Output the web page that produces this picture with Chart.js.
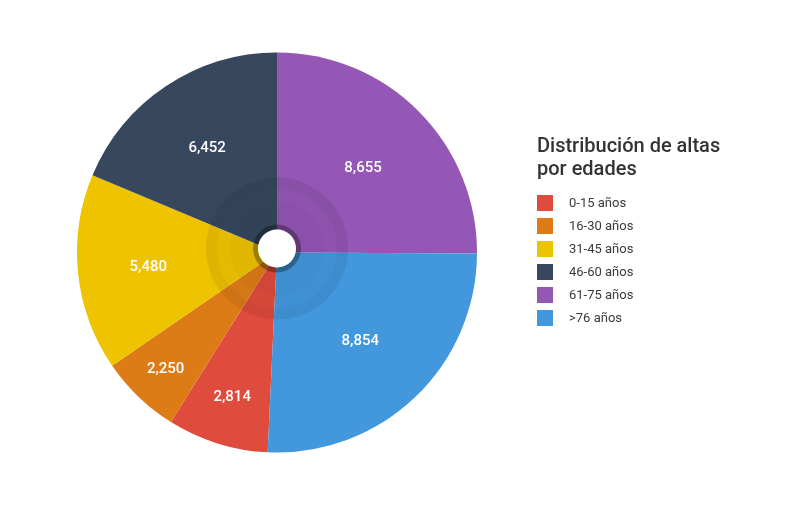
<!DOCTYPE html>
<html lang="es">
<head>
  <meta charset="UTF-8">
  <title>Distribución de altas por edades</title>
  <script src="https://cdn.jsdelivr.net/npm/chart.js@4.4.1/dist/chart.umd.min.js"></script>
  <style>
    body {
      margin: 0;
      background: #fff;
      font-family: 'Roboto', sans-serif;
    }

    .wrap {
      position: relative;
      width: 805px;
      height: 515px;
    }

    .legend {
      position: absolute;
      left: 537px;
      top: 134px;
      color: #333;
    }

    .legend h3 {
      margin: 0 0 11px 0;
      font-size: 20px;
      font-weight: 500;
      line-height: 23px;
    }

    .legend .row {
      display: flex;
      align-items: center;
      height: 23px;
      font-size: 13px;
      color: #3a3a3a;
    }

    .legend .box {
      width: 16px;
      height: 16px;
      margin-right: 16px;
    }
  </style>
</head>
<body>

  <div class="wrap">
    <canvas id="pieChart" width="805" height="515"></canvas>
    <div class="legend" id="legend">
      <h3>Distribución de altas<br>por edades</h3>
    </div>
  </div>

  <script>
    const categories = ['0-15 años', '16-30 años', '31-45 años', '46-60 años', '61-75 años', '>76 años'];
    const values = [2814, 2250, 5480, 6452, 8655, 8854];
    const colors = ['#df4b3d', '#dd7c17', '#eec300', '#36475e', '#9457b5', '#4297dd'];

    const total = values.reduce((a, b) => a + b, 0);
    // the 61-75 slice starts at 12 o'clock, so the first slice begins after the last two
    const startAngle = 360 * (values[4] + values[5]) / total;

    // legend rows
    const legend = document.getElementById('legend');
    categories.forEach((c, i) => {
      const row = document.createElement('div');
      row.className = 'row';
      row.innerHTML = '<span class="box" style="background:' + colors[i] + '"></span><span></span>';
      row.lastChild.textContent = c;
      legend.appendChild(row);
    });

    // rings, white hole and value labels
    const centerDecor = {
      id: 'centerDecor',
      afterDatasetsDraw(chart) {
        const meta = chart.getDatasetMeta(0);
        const ctx = chart.ctx;
        const first = meta.data[0];
        const cx = first.x;
        const cy = first.y - 4;

        ctx.save();
        const ring = (r1, r2, fill) => {
          ctx.beginPath();
          ctx.arc(cx, cy, r2, 0, Math.PI * 2);
          ctx.arc(cx, cy, r1, 0, Math.PI * 2, true);
          ctx.fillStyle = fill;
          ctx.fill();
        };
        ring(60, 71, 'rgba(0,0,0,0.07)');
        ring(47, 60, 'rgba(0,0,0,0.04)');
        ring(24, 47, 'rgba(0,0,0,0.06)');
        ring(19, 24, 'rgba(0,0,0,0.35)');
        ctx.beginPath();
        ctx.arc(cx, cy, 19, 0, Math.PI * 2);
        ctx.fillStyle = '#fff';
        ctx.fill();

        // small slices get their label further out
        ctx.font = '500 15px Roboto';
        ctx.fillStyle = '#fff';
        ctx.textAlign = 'center';
        ctx.textBaseline = 'middle';
        meta.data.forEach((arc, i) => {
          const span = (arc.endAngle - arc.startAngle) * 180 / Math.PI;
          const mid = (arc.startAngle + arc.endAngle) / 2;
          const d = arc.outerRadius * (0.537 + 6.29 / span);
          ctx.fillText(values[i].toLocaleString('en-US'),
            arc.x + Math.cos(mid) * d, arc.y + 1 + Math.sin(mid) * d);
        });
        ctx.restore();
      }
    };

    new Chart(document.getElementById('pieChart'), {
      type: 'pie',
      data: {
        labels: categories,
        datasets: [{
          data: values,
          backgroundColor: colors,
          borderWidth: 0
        }]
      },
      options: {
        responsive: false,
        animation: false,
        rotation: startAngle,
        layout: {
          padding: { left: 77, right: 328, top: 52, bottom: 62 }
        },
        plugins: {
          legend: { display: false },
          tooltip: { enabled: false }
        }
      },
      plugins: [centerDecor]
    });
  </script>

</body>
</html>
